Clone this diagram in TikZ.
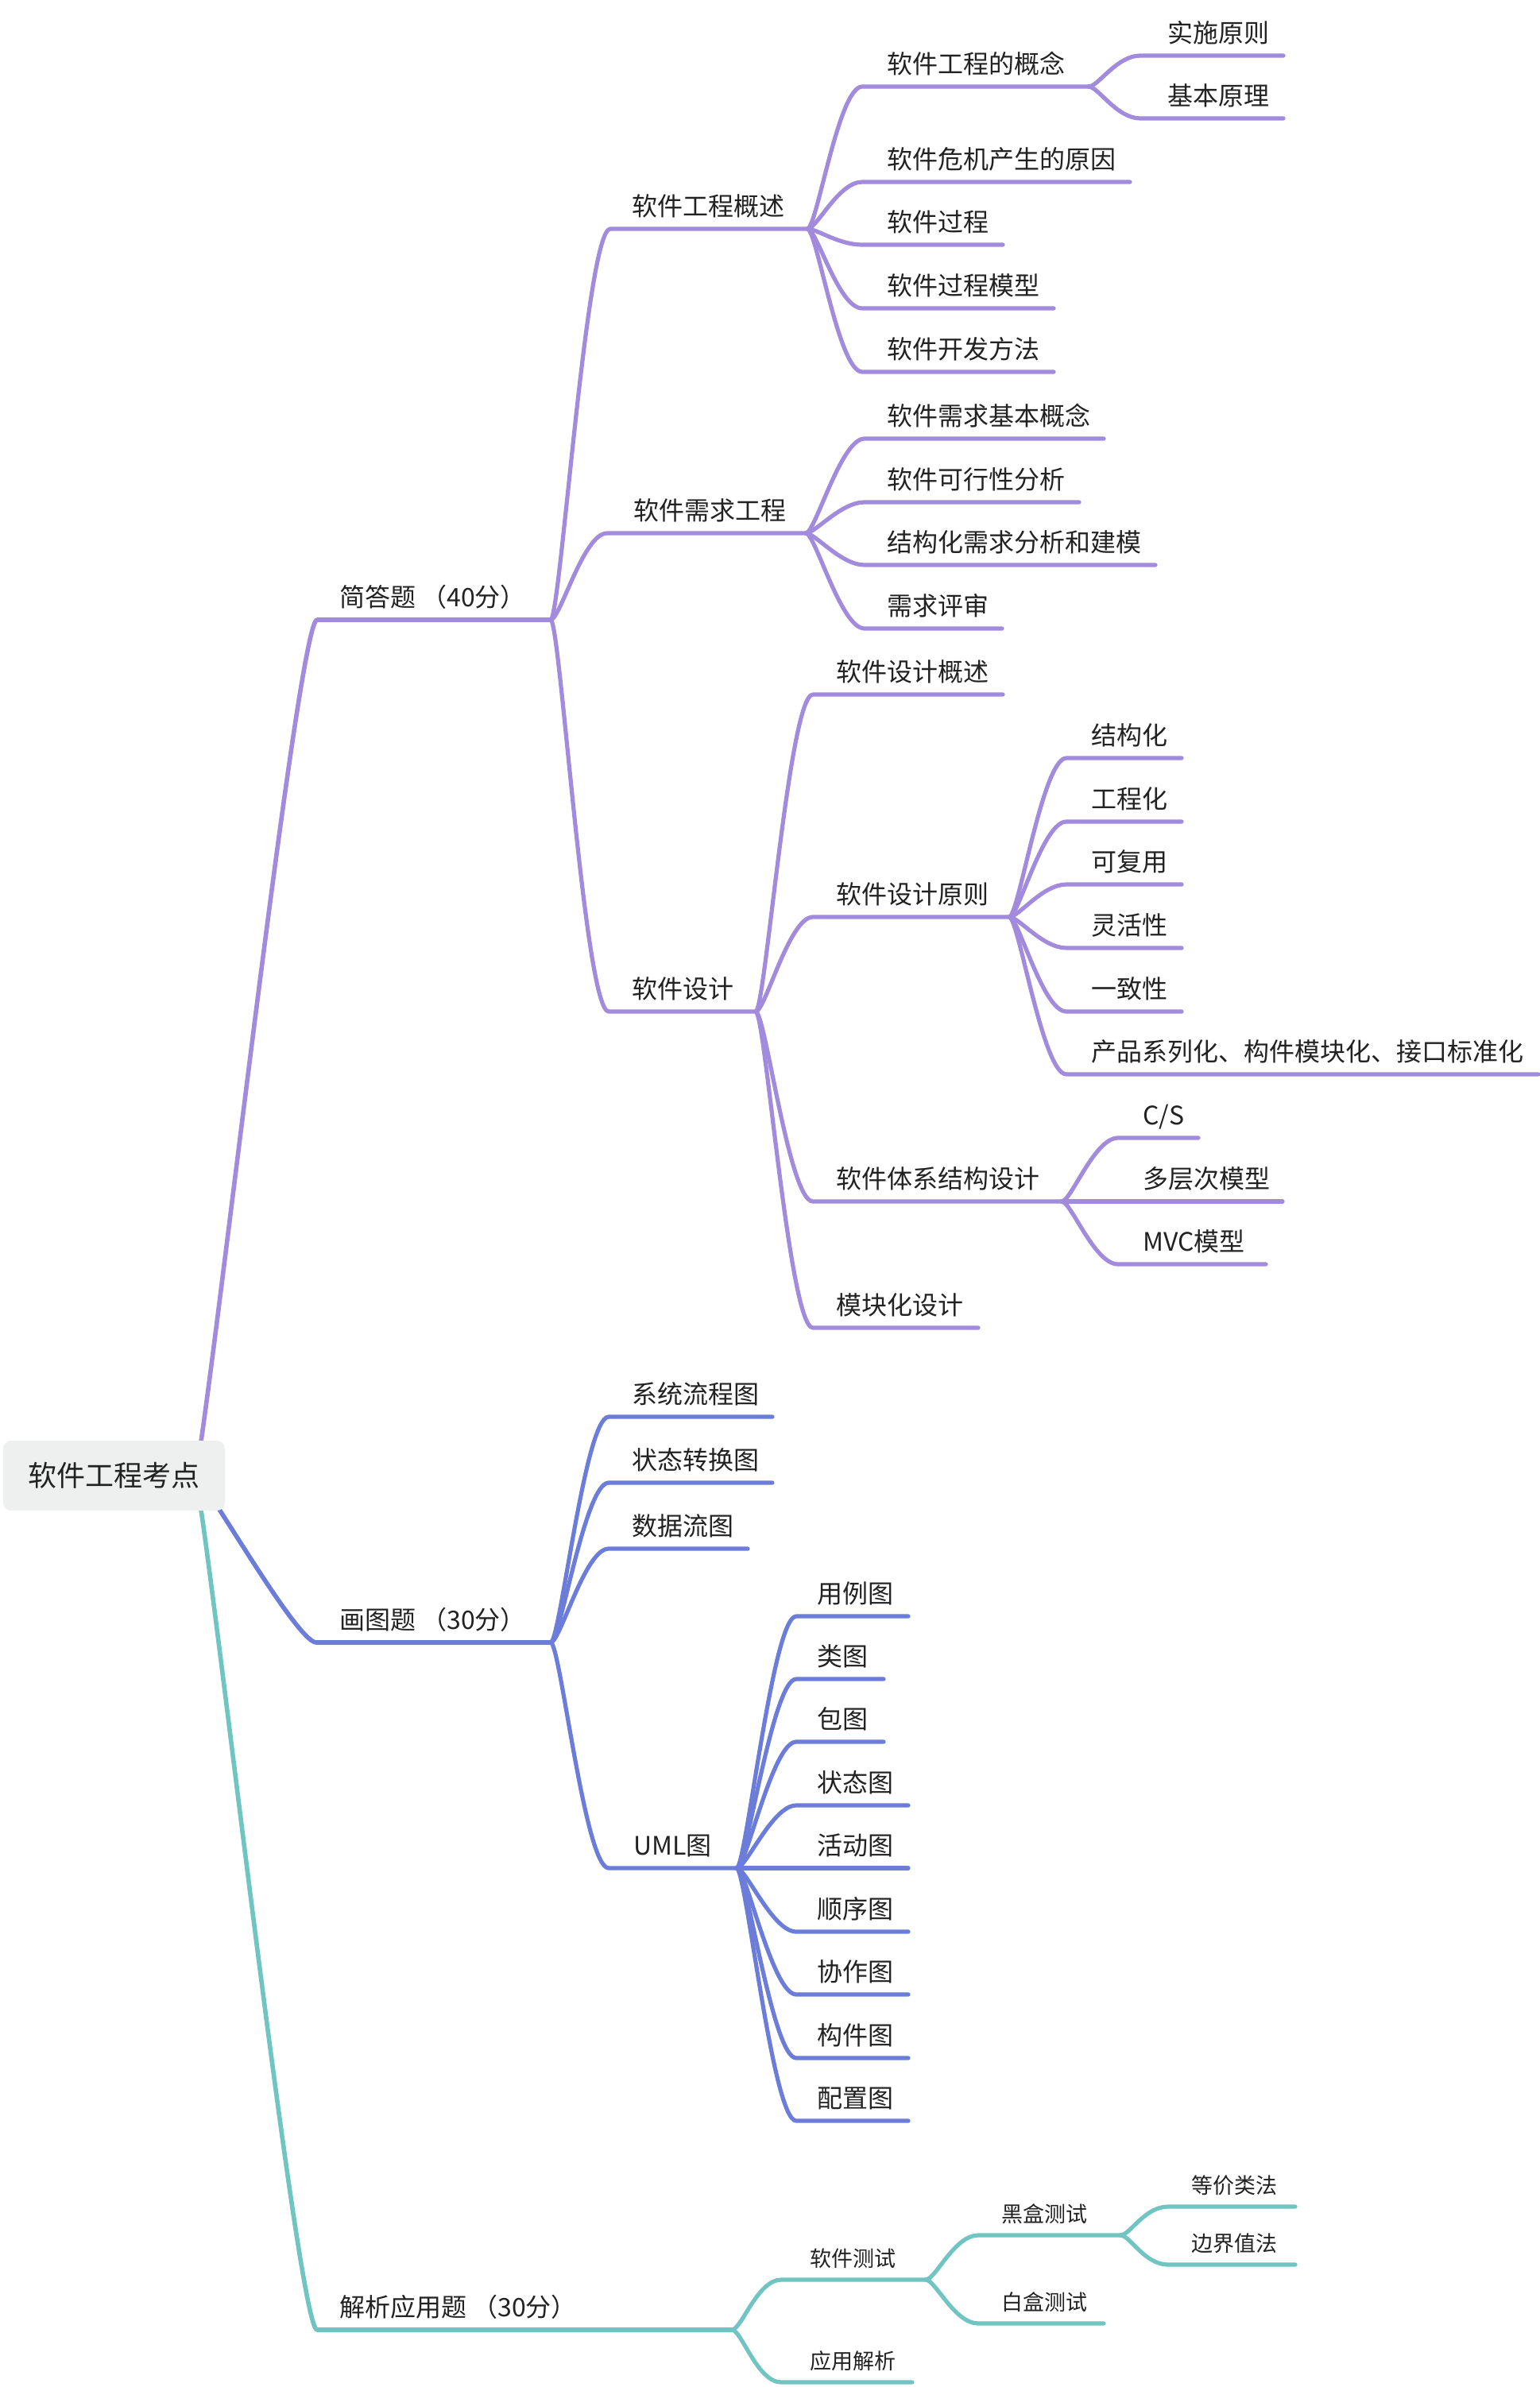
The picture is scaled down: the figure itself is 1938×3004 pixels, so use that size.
\documentclass[tikz,border=0pt]{standalone}
\usepackage{fontspec}
\setmainfont{Noto Sans CJK SC}
\definecolor{pur}{HTML}{A28BDD}
\definecolor{blu}{HTML}{6B7DD9}
\definecolor{tea}{HTML}{70C5C3}
\definecolor{rootgray}{HTML}{EEF0EF}
\definecolor{txt}{HTML}{222222}
\newcommand{\fsbig}{\fontsize{32}{38}\selectfont}
\newcommand{\fssmall}{\fontsize{27}{32}\selectfont}
% #1 name, #2 parent coordinate, #3 corner x, #4 line y, #5 end x, #6 text, #7 colour, #8 text x
\newcommand{\mmnode}[8]{%
  \coordinate (#1-s) at (#3,#4);
  \coordinate (#1-e) at (#5,#4);
  \draw[conn,#7] (#2) .. controls +(12,0) and +(-30,0) .. (#1-s) -- (#1-e);
  \node[lbl] (#1) at (#8,#4-17) {#6};
}
\begin{document}
\begin{tikzpicture}[x=1pt,y=-1pt,
  conn/.style={line width=5.2pt,line cap=round,line join=round},
  rootconn/.style={line width=5.6pt,line cap=round,line join=round},
  lbl/.style={anchor=base west,inner sep=0pt,text=txt,font=\fsbig},
  rootbox/.style={fill=rootgray,rounded corners=10pt,minimum width=279pt,minimum height=88pt,inner sep=0pt,text=txt,font=\fontsize{36}{42}\selectfont}]
\useasboundingbox (0,0) rectangle (1938,3004);
\fill[white] (0,0) rectangle (1938,3004);

\coordinate (root-o) at (245,1857);

% ---------- level 1 ----------
\coordinate (A-s) at (399,780);  \coordinate (A-e) at (693,780);
\coordinate (B-s) at (398,2067); \coordinate (B-e) at (693,2067);
\coordinate (C-s) at (399,2932); \coordinate (C-e) at (921,2932);
\draw[rootconn,pur] (root-o) .. controls +(10,0) and +(-25,0) .. (A-s) -- (A-e);
\draw[rootconn,blu] (root-o) .. controls +(10,0) and +(-25,0) .. (B-s) -- (B-e);
\draw[rootconn,tea] (root-o) .. controls +(10,0) and +(-25,0) .. (C-s) -- (C-e);
\node[lbl] (A) at (427,763) {简答题 （40分）};
\node[lbl] (B) at (427,2050) {画图题 （30分）};
\node[lbl] (C) at (427,2915) {解析应用题 （30分）};

% ---------- 简答题 ----------
\mmnode{A1}{A-e}{768}{288}{1016}{软件工程概述}{pur}{795}
\mmnode{A2}{A-e}{764}{671}{1014}{软件需求工程}{pur}{797}
\mmnode{A3}{A-e}{766}{1273}{951}{软件设计}{pur}{795}

\mmnode{A11}{A1-e}{1085}{109}{1370}{软件工程的概念}{pur}{1116}
\mmnode{A12}{A1-e}{1085}{229}{1422}{软件危机产生的原因}{pur}{1116}
\mmnode{A13}{A1-e}{1085}{308}{1262}{软件过程}{pur}{1116}
\mmnode{A14}{A1-e}{1085}{388}{1326}{软件过程模型}{pur}{1116}
\mmnode{A15}{A1-e}{1085}{468}{1326}{软件开发方法}{pur}{1116}

\mmnode{A111}{A11-e}{1435}{70}{1615}{实施原则}{pur}{1469}
\mmnode{A112}{A11-e}{1435}{149}{1615}{基本原理}{pur}{1469}

\mmnode{A21}{A2-e}{1088}{552}{1389}{软件需求基本概念}{pur}{1116}
\mmnode{A22}{A2-e}{1088}{632}{1358}{软件可行性分析}{pur}{1116}
\mmnode{A23}{A2-e}{1088}{711}{1454}{结构化需求分析和建模}{pur}{1116}
\mmnode{A24}{A2-e}{1088}{791}{1261}{需求评审}{pur}{1116}

\mmnode{A31}{A3-e}{1023}{874}{1262}{软件设计概述}{pur}{1052}
\mmnode{A32}{A3-e}{1023}{1154}{1270}{软件设计原则}{pur}{1052}
\mmnode{A33}{A3-e}{1023}{1512}{1336}{软件体系结构设计}{pur}{1052}
\mmnode{A34}{A3-e}{1023}{1671}{1231}{模块化设计}{pur}{1052}

\mmnode{A321}{A32-e}{1342}{954}{1487}{结构化}{pur}{1373}
\mmnode{A322}{A32-e}{1342}{1034}{1487}{工程化}{pur}{1373}
\mmnode{A323}{A32-e}{1342}{1113}{1487}{可复用}{pur}{1373}
\mmnode{A324}{A32-e}{1342}{1193}{1487}{灵活性}{pur}{1373}
\mmnode{A325}{A32-e}{1342}{1273}{1487}{一致性}{pur}{1373}
\mmnode{A326}{A32-e}{1342}{1352}{1936}{产品系列化、构件模块化、接口标准化}{pur}{1373}

\mmnode{A331}{A33-e}{1407}{1432}{1508}{C/S}{pur}{1438}
\mmnode{A332}{A33-e}{1407}{1512}{1614}{多层次模型}{pur}{1438}
\mmnode{A333}{A33-e}{1407}{1591}{1593}{MVC模型}{pur}{1438}

% ---------- 画图题 ----------
\mmnode{B1}{B-e}{766}{1783}{972}{系统流程图}{blu}{795}
\mmnode{B2}{B-e}{766}{1866}{972}{状态转换图}{blu}{795}
\mmnode{B3}{B-e}{766}{1949}{941}{数据流图}{blu}{795}
\mmnode{B4}{B-e}{766}{2351}{927}{UML图}{blu}{797}

\mmnode{B41}{B4-e}{1002}{2034}{1143}{用例图}{blu}{1028}
\mmnode{B42}{B4-e}{1002}{2113}{1112}{类图}{blu}{1028}
\mmnode{B43}{B4-e}{1002}{2192}{1112}{包图}{blu}{1028}
\mmnode{B44}{B4-e}{1002}{2272}{1143}{状态图}{blu}{1028}
\mmnode{B45}{B4-e}{1002}{2351}{1143}{活动图}{blu}{1028}
\mmnode{B46}{B4-e}{1002}{2431}{1143}{顺序图}{blu}{1028}
\mmnode{B47}{B4-e}{1002}{2510}{1143}{协作图}{blu}{1028}
\mmnode{B48}{B4-e}{1002}{2590}{1143}{构件图}{blu}{1028}
\mmnode{B49}{B4-e}{1002}{2669}{1143}{配置图}{blu}{1028}

% ---------- 解析应用题 ----------
\mmnode{C1}{C-e}{983}{2869}{1165}{\fssmall 软件测试}{tea}{1019}
\mmnode{C2}{C-e}{983}{2998}{1148}{\fssmall 应用解析}{tea}{1019}
\mmnode{C11}{C1-e}{1231}{2813}{1410}{\fssmall 黑盒测试}{tea}{1260}
\mmnode{C12}{C1-e}{1231}{2924}{1389}{\fssmall 白盒测试}{tea}{1260}
\mmnode{C111}{C11-e}{1470}{2777}{1630}{\fssmall 等价类法}{tea}{1499}
\mmnode{C112}{C11-e}{1470}{2850}{1630}{\fssmall 边界值法}{tea}{1499}

% ---------- root ----------
\node[rootbox] (root) at (143.5,1857) {软件工程考点};
\end{tikzpicture}
\end{document}
